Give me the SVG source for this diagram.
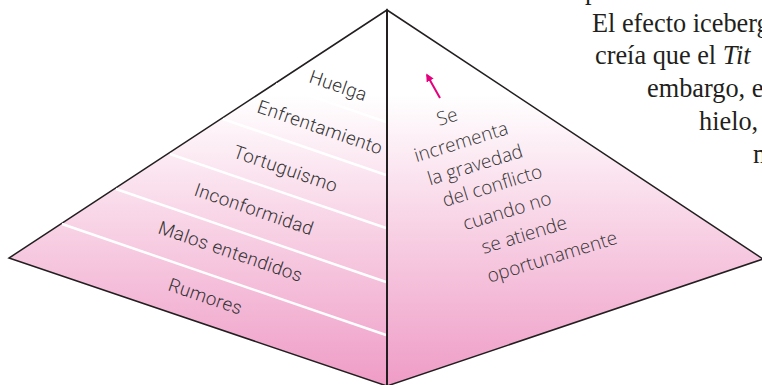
<svg xmlns="http://www.w3.org/2000/svg" width="762" height="385" viewBox="0 0 762 385">
  <defs>
    <linearGradient id="pink" gradientUnits="userSpaceOnUse" x1="0" y1="95" x2="0" y2="386">
      <stop offset="0" stop-color="#ffffff"/>
      <stop offset="1" stop-color="#ef9cc6"/>
    </linearGradient>
    <marker id="arrowhead" viewBox="0 0 10 10" refX="8" refY="5" markerWidth="4" markerHeight="4" orient="auto" markerUnits="strokeWidth">
      <path d="M0,0 L10,5 L0,10 z" fill="#e5007d"/>
    </marker>
  </defs>
  <style>
    .face { fill: url(#pink); stroke: #231f20; stroke-width: 1.5; stroke-linejoin: miter; }
    .edge { stroke: #231f20; stroke-width: 2; fill: none; }
    .divider { stroke: #ffffff; stroke-width: 2.5; fill: none; }
    .lvl { font-family: Roboto, "DejaVu Sans", sans-serif; font-weight: 300; font-size: 18.6px; fill: #333333; letter-spacing: 0.4px; }
    .note { font-family: "Open Sans", "Noto Sans", sans-serif; font-weight: 300; font-size: 19px; fill: #333333; text-anchor: middle; }
    .body { font-family: "Liberation Serif", "Times New Roman", serif; font-size: 26.3px; fill: #231f20; }
  </style>

  <g id="pyramid">
    <polygon class="face" points="387,10 9,258 387,386"/>
    <polygon class="face" points="387,10 763,259 387,386"/>
    <g id="dividers">
      <line class="divider" x1="276" y1="84" x2="386" y2="122"/>
      <line class="divider" x1="223" y1="119" x2="386" y2="175"/>
      <line class="divider" x1="170" y1="154" x2="386" y2="228"/>
      <line class="divider" x1="116" y1="189" x2="386" y2="282"/>
      <line class="divider" x1="62" y1="224" x2="386" y2="335"/>
    </g>
    <line class="edge" x1="387" y1="10" x2="387" y2="386"/>
  </g>

  <g id="level-huelga"><text class="lvl" transform="translate(308,82) rotate(19)">Huelga</text></g>
  <g id="level-enfrentamiento"><text class="lvl" transform="translate(256,112) rotate(19)">Enfrentamiento</text></g>
  <g id="level-tortuguismo"><text class="lvl" transform="translate(232,157) rotate(19)">Tortuguismo</text></g>
  <g id="level-inconformidad"><text class="lvl" transform="translate(193,195) rotate(19)">Inconformidad</text></g>
  <g id="level-malos"><text class="lvl" transform="translate(157,233) rotate(19)">Malos entendidos</text></g>
  <g id="level-rumores"><text class="lvl" transform="translate(167,290) rotate(19)">Rumores</text></g>

  <g id="note">
    <text class="note" transform="translate(449,123) rotate(-17)">Se</text>
    <text class="note" transform="translate(463,148) rotate(-17)">incrementa</text>
    <text class="note" transform="translate(477,171) rotate(-17)">la gravedad</text>
    <text class="note" transform="translate(494,192) rotate(-17)">del conflicto</text>
    <text class="note" transform="translate(509,217) rotate(-17)">cuando no</text>
    <text class="note" transform="translate(526,241) rotate(-17)">se atiende</text>
    <text class="note" transform="translate(554,263) rotate(-17)">oportunamente</text>
  </g>

  <g id="connectors">
    <line x1="440" y1="98" x2="427" y2="75" stroke="#e5007d" stroke-width="2" marker-end="url(#arrowhead)"/>
  </g>

  <g id="body-text" class="body">
    <text x="585" y="-0.7">p</text>
    <text x="592" y="32">El efecto iceberg</text>
    <text x="595" y="64">creía que el <tspan font-style="italic">Tit</tspan></text>
    <text x="647" y="97">embargo, e</text>
    <text x="699" y="130">hielo,</text>
    <text x="753" y="163">m</text>
  </g>
</svg>
